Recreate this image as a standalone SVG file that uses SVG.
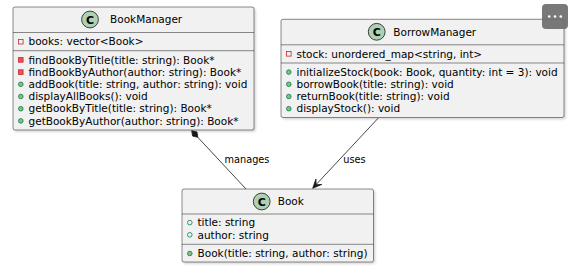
<svg xmlns="http://www.w3.org/2000/svg" width="575" height="266" viewBox="0 0 575 266">
<defs>
<filter id="sh" x="-5%" y="-5%" width="110%" height="115%">
<feDropShadow dx="1.5" dy="1.5" stdDeviation="1" flood-color="#000" flood-opacity="0.18"/>
</filter>
<style>
text{font-family:"DejaVu Sans","Liberation Sans",sans-serif;fill:#000}
.box{fill:#F1F1F1;stroke:#181818;stroke-width:0.5;filter:url(#sh)}
.sep{stroke:#181818;stroke-width:0.5}
.name{font-size:10.5px}
.m{font-size:10.5px}
.cc{fill:#ADD1B2;stroke:#181818;stroke-width:0.8}
.cl{font-size:11px;font-weight:bold;text-anchor:middle}
.pf{fill:none;stroke:#C82930;stroke-width:0.8}
.pm{fill:#F24D5C;stroke:#C82930;stroke-width:0.8}
.uf{fill:none;stroke:#038048;stroke-width:0.8}
.um{fill:#84BE84;stroke:#038048;stroke-width:0.8}
.edge{stroke:#181818;stroke-width:0.8;fill:none}
.lbl{font-size:9.75px;text-anchor:middle}
</style>
</defs>
<rect width="575" height="266" fill="#fff"/>
<g id="BookManager">
<rect class="box" x="13" y="7" width="241" height="123" rx="2"/>
<circle class="cc" cx="90" cy="19.5" r="8.4"/>
<text class="cl" x="90" y="23.5">C</text>
<text class="name" x="110" y="23.3">BookManager</text>
<line class="sep" x1="13" y1="32.5" x2="254" y2="32.5"/>
<rect class="pf" x="18.5" y="39.4" width="4.6" height="4.6"/>
<text class="m" x="28.5" y="45.4">books: vector&lt;Book&gt;</text>
<line class="sep" x1="13" y1="50.7" x2="254" y2="50.7"/>
<rect class="pm" x="18.5" y="57.6" width="4.6" height="4.6"/>
<text class="m" x="28.5" y="63.6">findBookByTitle(title: string): Book*</text>
<rect class="pm" x="18.5" y="69.8" width="4.6" height="4.6"/>
<text class="m" x="28.5" y="75.8">findBookByAuthor(author: string): Book*</text>
<circle class="um" cx="20.8" cy="84.3" r="2.3"/>
<text class="m" x="28.5" y="88">addBook(title: string, author: string): void</text>
<circle class="um" cx="20.8" cy="96.5" r="2.3"/>
<text class="m" x="28.5" y="100.2">displayAllBooks(): void</text>
<circle class="um" cx="20.8" cy="108.7" r="2.3"/>
<text class="m" x="28.5" y="112.4">getBookByTitle(title: string): Book*</text>
<circle class="um" cx="20.8" cy="120.9" r="2.3"/>
<text class="m" x="28.5" y="124.6">getBookByAuthor(author: string): Book*</text>
</g>
<g id="BorrowManager">
<rect class="box" x="281" y="19.3" width="283" height="98.2" rx="2"/>
<circle class="cc" cx="376.7" cy="31.8" r="8.4"/>
<text class="cl" x="376.7" y="35.8">C</text>
<text class="name" x="393.3" y="35.6">BorrowManager</text>
<line class="sep" x1="281" y1="44.8" x2="564" y2="44.8"/>
<rect class="pf" x="286.5" y="51.5" width="4.6" height="4.6"/>
<text class="m" x="296.5" y="57.5">stock: unordered_map&lt;string, int&gt;</text>
<line class="sep" x1="281" y1="63" x2="564" y2="63"/>
<circle class="um" cx="288.8" cy="72.1" r="2.3"/>
<text class="m" x="296.5" y="75.8">initializeStock(book: Book, quantity: int = 3): void</text>
<circle class="um" cx="288.8" cy="84.3" r="2.3"/>
<text class="m" x="296.5" y="88">borrowBook(title: string): void</text>
<circle class="um" cx="288.8" cy="96.5" r="2.3"/>
<text class="m" x="296.5" y="100.2">returnBook(title: string): void</text>
<circle class="um" cx="288.8" cy="108.7" r="2.3"/>
<text class="m" x="296.5" y="112.4">displayStock(): void</text>
</g>
<g id="Book">
<rect class="box" x="182" y="189" width="191.5" height="73" rx="2"/>
<circle class="cc" cx="261.7" cy="201.5" r="8.4"/>
<text class="cl" x="261.7" y="205.5">C</text>
<text class="name" x="277.7" y="205.3">Book</text>
<line class="sep" x1="182" y1="214" x2="373.5" y2="214"/>
<circle class="uf" cx="189.8" cy="222.6" r="2.3"/>
<text class="m" x="197.5" y="226.3">title: string</text>
<circle class="uf" cx="189.8" cy="234.8" r="2.3"/>
<text class="m" x="197.5" y="238.5">author: string</text>
<line class="sep" x1="182" y1="244.3" x2="373.5" y2="244.3"/>
<circle class="um" cx="189.8" cy="253.5" r="2.3"/>
<text class="m" x="197.5" y="257.2">Book(title: string, author: string)</text>
</g>
<g id="connectors">
<line class="edge" x1="197.8" y1="137.3" x2="246" y2="189"/>
<polygon points="191.7,130.7 192.56,136.04 197.83,137.29 196.96,131.96" fill="#181818" stroke="#181818" stroke-width="0.8"/>
<text class="lbl" x="247" y="162.5">manages</text>
<line class="edge" x1="378.3" y1="118" x2="316.1" y2="184.6"/>
<polygon points="312.7,188.3 315.92,178.99 316.11,184.65 321.76,184.45" fill="#181818" stroke="#181818" stroke-width="0.8" stroke-linejoin="round"/>
<text class="lbl" x="354.5" y="162.5">uses</text>
</g>
<g id="menu-button">
<rect x="542" y="4" width="26" height="25" rx="4" fill="#6E6E6E" fill-opacity="0.92"/>
<circle cx="549.2" cy="16.5" r="1.3" fill="#fff"/>
<circle cx="555" cy="16.5" r="1.3" fill="#fff"/>
<circle cx="560.8" cy="16.5" r="1.3" fill="#fff"/>
</g>
</svg>
